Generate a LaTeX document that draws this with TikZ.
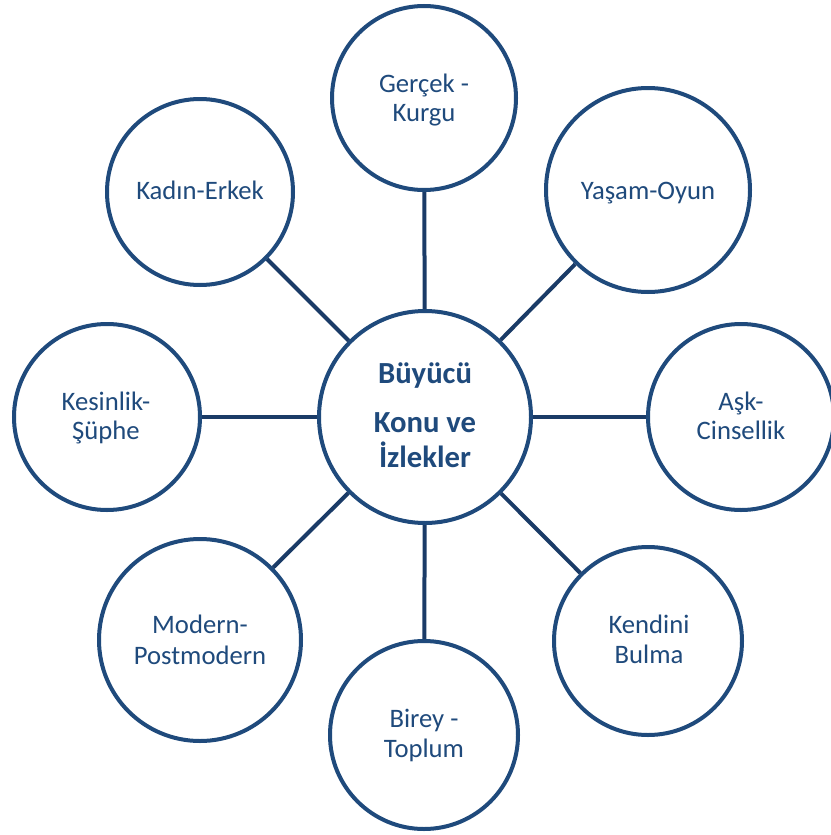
\documentclass[tikz,border=0pt]{standalone}
\usepackage{fontspec}
\setmainfont{Carlito}
\definecolor{ringblue}{HTML}{1F4A7C}
\definecolor{linkblue}{HTML}{1A3B67}
\begin{document}
\begin{tikzpicture}[x=0.75pt,y=-0.75pt,
  ring/.style={circle,draw=ringblue,line width=3pt,fill=white,inner sep=0pt,minimum size=#1*0.75pt},
  link/.style={draw=linkblue,line width=3pt},
  lbl/.style={anchor=base,inner sep=0pt,text=ringblue,font=\fontsize{20}{24}\selectfont},
  hub/.style={anchor=base,inner sep=0pt,text=ringblue,font=\bfseries\fontsize{23}{27}\selectfont}]
\useasboundingbox (0,0) rectangle (831,835);

% rings (diameters in px)
\node[ring=212] (hubring) at (425,417) {};
\node[ring=184] (n)  at (424,98)  {};
\node[ring=186] (nw) at (200,192) {};
\node[ring=204] (ne) at (648,190) {};
\node[ring=186] (w)  at (107,417) {};
\node[ring=186] (e)  at (741,417) {};
\node[ring=202] (sw) at (200,640) {};
\node[ring=188] (s)  at (424,735) {};
\node[ring=188] (se) at (648,641) {};

% spokes from the hub to each ring
\foreach \t in {n,nw,ne,w,e,sw,s,se}
  \draw[link] (hubring) -- (\t);

% labels
\node[hub] (h1) at (425,383) {Büyücü};
\node[hub] (h2) at (425,432) {Konu ve};
\node[hub] (h3) at (425,467) {İzlekler};

\node[lbl] (n1) at (424,92)  {Gerçek -};
\node[lbl] (n2) at (424,121) {Kurgu};
\node[lbl] (nw1) at (200,199) {Kadın-Erkek};
\node[lbl] (ne1) at (648,199) {Yaşam-Oyun};
\node[lbl] (w1) at (106,410) {Kesinlik-};
\node[lbl] (w2) at (106,439) {Şüphe};
\node[lbl] (e1) at (741,410) {Aşk-};
\node[lbl] (e2) at (741,439) {Cinsellik};
\node[lbl] (sw1) at (200,633) {Modern-};
\node[lbl] (sw2) at (200,664) {Postmodern};
\node[lbl] (s1) at (424,727) {Birey -};
\node[lbl] (s2) at (424,757) {Toplum};
\node[lbl] (se1) at (649,633) {Kendini};
\node[lbl] (se2) at (649,663) {Bulma};
\end{tikzpicture}
\end{document}
